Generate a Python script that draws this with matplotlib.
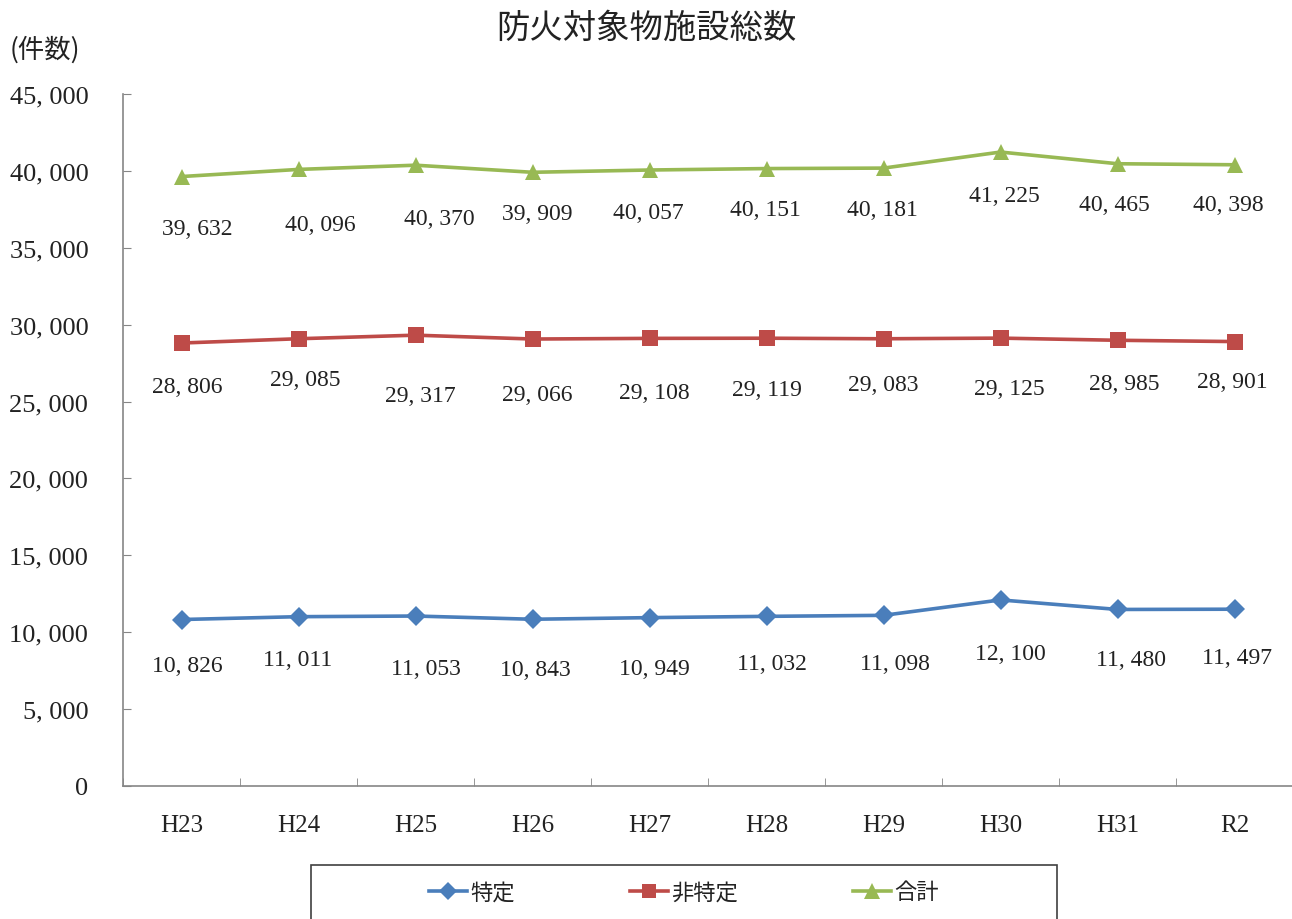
import matplotlib.pyplot as plt
from matplotlib.patches import Rectangle

plt.rcParams['font.family'] = ['Liberation Serif', 'Noto Sans CJK JP', 'DejaVu Sans']

years = ['H23', 'H24', 'H25', 'H26', 'H27', 'H28', 'H29', 'H30', 'H31', 'R2']
tokutei = [10826, 11011, 11053, 10843, 10949, 11032, 11098, 12100, 11480, 11497]
hi_tokutei = [28806, 29085, 29317, 29066, 29108, 29119, 29083, 29125, 28985, 28901]
goukei = [39632, 40096, 40370, 39909, 40057, 40151, 40181, 41225, 40465, 40398]

# where the value labels sit, in pixels from the point (right, down)
toku_off = [(6, 46), (-1, 43), (10, 52), (3, 50), (5, 51), (5, 47), (11, 48), (10, 54), (13, 50), (2, 48)]
hi_off = [(6, 43), (7, 41), (5, 60), (5, 55), (5, 54), (0, 51), (0, 46), (9, 50), (7, 43), (-2, 40)]
gou_off = [(16, 52), (22, 55), (24, 53), (5, 41), (-1, 42), (-1, 41), (-1, 41), (4, 43), (-3, 41), (-6, 40)]

blue = '#4A7EBB'
red = '#BE4B48'
green = '#98B954'
gray = '#868686'


def fmt(v):
    return '{:,}'.format(v).replace(',', ', ')


def main():
    fig = plt.figure(figsize=(12.92, 9.2), dpi=100)
    ax = fig.add_axes([123 / 1292, 1 - 787 / 920, 1170 / 1292, 692 / 920])

    x = list(range(len(years)))
    series = [
        (tokutei, '特定', blue, 'D', 10, toku_off),
        (hi_tokutei, '非特定', red, 's', 11, hi_off),
        (goukei, '合計', green, '^', 11.5, gou_off),
    ]
    handles = []
    for vals, name, col, mk, ms, offs in series:
        h, = ax.plot(x, vals, color=col, lw=2.6, marker=mk, markersize=ms,
                     markeredgewidth=0, label=name)
        handles.append(h)
        for xi, v, (dx, dy) in zip(x, vals, offs):
            ax.annotate(fmt(v), (xi, v), xytext=(dx * 0.72, -dy * 0.72),
                        textcoords='offset points', ha='center', va='center',
                        fontsize=17, color='#222222')

    ax.set_xlim(-0.5, len(years) - 0.5)
    ax.set_ylim(0, 45000)
    ax.set_yticks(range(0, 45001, 5000))
    ax.set_yticklabels([fmt(v) for v in range(0, 45001, 5000)], fontsize=19)
    ax.set_xticks(x)
    ax.set_xticklabels(years, fontsize=18)
    ax.set_xticks([i - 0.5 for i in range(len(years))], minor=True)

    for s in ['top', 'right']:
        ax.spines[s].set_visible(False)
    for s in ['left', 'bottom']:
        ax.spines[s].set_color(gray)
        ax.spines[s].set_linewidth(1.2)
    ax.tick_params(axis='y', direction='in', length=6, color=gray, pad=25, labelcolor='#222222')
    ax.tick_params(axis='x', which='major', length=0, pad=20, labelcolor='#222222')
    ax.tick_params(axis='x', which='minor', direction='in', length=6, color=gray)

    fig.text(0.5, 1 - 28 / 920, '防火対象物施設総数', ha='center', va='center',
             fontsize=24, family=['Noto Sans CJK JP'], color='#222222')
    fig.text(10 / 1292, 1 - 50 / 920, '(件数)', ha='left', va='center',
             fontsize=19, family=['Noto Sans CJK JP'], color='#222222')

    fig.patches.append(Rectangle((311 / 1292, -0.05), 746 / 1292, 0.05 + 54 / 920,
                                 transform=fig.transFigure, fill=False,
                                 edgecolor='#404040', lw=1.2))
    leg = fig.legend(handles=handles, loc='center', bbox_to_anchor=(684 / 1292, 1 - 893 / 920),
                     ncol=3, frameon=False, prop={'family': ['Noto Sans CJK JP'], 'size': 16},
                     handlelength=1.7, handletextpad=0.15, columnspacing=5.2,
                     markerscale=0.95)
    for t in leg.get_texts():
        t.set_color('#222222')

    fig.savefig('out.png', dpi=100)


if __name__ == '__main__':
    main()
